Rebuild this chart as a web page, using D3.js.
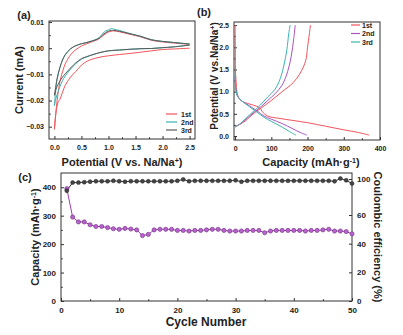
<!DOCTYPE html>
<html>
<head>
  <title>CV, charge/discharge and cycling</title>
  <script src="https://d3js.org/d3.v7.min.js"></script>
  <style>
    body { margin: 0; background: #fff; }
    text { font-family: "Liberation Sans", Arial, sans-serif; font-weight: bold; fill: #222; }
  </style>
</head>
<body>
<script>

// ---- (a) cyclic voltammetry ----
const cvDown = [2.5, 2.2, 2.0, 1.8, 1.6, 1.4, 1.2, 1.0, 0.8, 0.6, 0.5, 0.4, 0.3, 0.2, 0.15, 0.1, 0.07, 0.03, 0.0];
const cvUp = [0.0, 0.03, 0.05, 0.1, 0.15, 0.2, 0.3, 0.4, 0.5, 0.6, 0.7, 0.8, 0.85, 0.9, 0.95, 1.0, 1.05, 1.1, 1.2, 1.3, 1.4, 1.6, 1.8, 2.0, 2.2, 2.5];

const cv1Down = [0.0000, -0.0003, -0.0005, -0.0010, -0.0015, -0.0020, -0.0024, -0.0029, -0.0036, -0.0050, -0.0065, -0.0088, -0.0110, -0.0142, -0.0168, -0.0196, -0.0205, -0.0245, -0.0310];
const cv1Up = [-0.0310, -0.0240, -0.0200, -0.0130, -0.0090, -0.0060, -0.0025, -0.0005, 0.0008, 0.0017, 0.0025, 0.0033, 0.0040, 0.0048, 0.0056, 0.0062, 0.0065, 0.0066, 0.0063, 0.0058, 0.0053, 0.0043, 0.0030, 0.0024, 0.0020, 0.0015];
const cv2Down = [0.0012, 0.0005, 0.0002, -0.0001, -0.0002, -0.0004, -0.0007, -0.0010, -0.0019, -0.0033, -0.0042, -0.0058, -0.0080, -0.0106, -0.0124, -0.0148, -0.0165, -0.0190, -0.0220];
const cv2Up = [-0.0220, -0.0150, -0.0120, -0.0075, -0.0045, -0.0025, -0.0002, 0.0010, 0.0017, 0.0022, 0.0028, 0.0037, 0.0045, 0.0058, 0.0066, 0.0070, 0.0075, 0.0073, 0.0068, 0.0062, 0.0056, 0.0045, 0.0032, 0.0026, 0.0022, 0.0016];
const cv3Down = [0.0012, 0.0005, 0.0002, -0.0001, -0.0002, -0.0004, -0.0007, -0.0010, -0.0019, -0.0032, -0.0040, -0.0055, -0.0075, -0.0098, -0.0110, -0.0126, -0.0138, -0.0156, -0.0180];
const cv3Up = [-0.0180, -0.0140, -0.0115, -0.0075, -0.0045, -0.0025, -0.0002, 0.0010, 0.0017, 0.0022, 0.0028, 0.0035, 0.0042, 0.0052, 0.0060, 0.0065, 0.0068, 0.0068, 0.0065, 0.0060, 0.0055, 0.0045, 0.0032, 0.0026, 0.0022, 0.0016];
const cvNames = ["1st", "2nd", "3rd"];
const cvColors = ["#f2545a", "#3ab5ad", "#5a5a5a"];

// ---- (b) charge / discharge profiles ----
const dis1Cap = [0, 0.5, 1, 3, 5, 10, 20, 40, 60, 70, 75, 90, 120, 160, 200, 250, 300, 340, 370];
const dis1Pot = [2.5, 2.0, 1.5, 1.2, 1.0, 0.86, 0.78, 0.72, 0.67, 0.62, 0.55, 0.45, 0.40, 0.35, 0.30, 0.22, 0.14, 0.08, 0.02];
const chg1Cap = [0, 10, 30, 50, 70, 100, 130, 160, 180, 195, 200, 205, 208];
const chg1Pot = [0.22, 0.25, 0.35, 0.50, 0.62, 0.80, 1.00, 1.20, 1.42, 1.70, 2.00, 2.30, 2.50];
const dis2Cap = [0, 3, 8, 20, 40, 60, 80, 100, 130, 160, 180, 198];
const dis2Pot = [1.35, 1.0, 0.88, 0.78, 0.68, 0.57, 0.45, 0.38, 0.28, 0.16, 0.08, 0.02];
const chg2Cap = [0, 10, 30, 50, 70, 90, 110, 130, 145, 155, 162, 166];
const chg2Pot = [0.22, 0.25, 0.38, 0.52, 0.65, 0.80, 0.95, 1.15, 1.45, 1.80, 2.20, 2.50];
const dis3Cap = [0, 3, 8, 20, 40, 60, 80, 100, 130, 150, 168];
const dis3Pot = [1.4, 1.0, 0.88, 0.78, 0.66, 0.54, 0.42, 0.33, 0.20, 0.10, 0.02];
const chg3Cap = [0, 10, 30, 50, 70, 90, 110, 125, 135, 143, 148, 152];
const chg3Pot = [0.20, 0.25, 0.40, 0.55, 0.70, 0.88, 1.05, 1.30, 1.60, 1.95, 2.30, 2.50];
const gcColors = ["#f2545a", "#a855c0", "#3ab5ad"];

// ---- (c) cycling ----
const cycles = d3.range(1, 51);
const capacity = [395, 295, 278, 278, 268, 262, 262, 258, 254, 252, 255, 253, 250, 230, 234, 250, 252, 252, 252, 248,
  248, 246, 248, 248, 250, 252, 252, 248, 246, 246, 246, 248, 248, 248, 240, 246, 248, 248, 248, 248,
  248, 246, 248, 248, 250, 252, 246, 246, 244, 236];
const efficiency = [87, 96, 96, 96.5, 97, 97.5, 97.5, 97.5, 98, 97.5, 97, 97.5, 97.5, 97.5, 97.5, 97.5, 97.5, 97.5, 97.5, 98,
  99.5, 97.5, 98, 98, 98, 98, 98, 98, 98, 98.5, 97, 98, 98, 98, 98, 98, 98, 98, 98, 98,
  98, 98, 98, 98, 98, 98, 97.5, 100.5, 98.5, 95];

const svg = d3.select("body").append("svg").attr("width", 403).attr("height", 335);

// helper: inward ticks + minor ticks + box
function drawAxes(x, y, o) {
  const [x0, x1] = x.range(), [y0, y1] = y.range();
  const g = svg.append("g");
  g.append("g").attr("transform", `translate(0,${y0})`)
    .call(d3.axisBottom(x).tickValues(o.xt).tickFormat(o.xf).tickSizeInner(-3).tickSizeOuter(0).tickPadding(6));
  g.append("g").attr("transform", `translate(${x0},0)`)
    .call(d3.axisLeft(y).tickValues(o.yt).tickFormat(o.yf).tickSizeInner(-3).tickSizeOuter(0).tickPadding(5));
  g.append("g").attr("transform", `translate(0,${y0})`)
    .call(d3.axisBottom(x).tickValues(o.xm).tickFormat("").tickSizeInner(-1.8).tickSizeOuter(0));
  g.append("g").attr("transform", `translate(${x0},0)`)
    .call(d3.axisLeft(y).tickValues(o.ym).tickFormat("").tickSizeInner(-1.8).tickSizeOuter(0));
  g.selectAll(".domain").remove();
  g.selectAll(".tick line").attr("stroke", "#333");
  g.selectAll(".tick text").style("font-size", o.fs + "px").attr("fill", "#333");
  g.append("rect").attr("x", x0).attr("y", y1).attr("width", x1 - x0).attr("height", y0 - y1)
    .attr("fill", "none").attr("stroke", "#333").attr("stroke-width", 1);
  return g;
}

function title(txt, x, y, rot, size) {
  const t = svg.append("text").attr("text-anchor", "middle")
    .attr("transform", `translate(${x},${y}) rotate(${rot || 0})`)
    .style("font-size", (size || 11) + "px");
  txt.forEach(p => {
    const s = t.append("tspan").text(p[0]);
    if (p[1]) s.attr("baseline-shift", "super").style("font-size", "7px");
  });
  return t;
}

// ================= (a) =================
const xa = d3.scaleLinear([-0.1, 2.6], [49, 195]);
const ya = d3.scaleLinear([-0.0347, 0.0104], [139, 21]);
drawAxes(xa, ya, {
  xt: [0, 0.5, 1, 1.5, 2, 2.5], xf: d3.format(".1f"), xm: [0.25, 0.75, 1.25, 1.75, 2.25],
  yt: [-0.03, -0.02, -0.01, 0, 0.01], yf: d3.format(".2f"), ym: [-0.025, -0.015, -0.005, 0.005], fs: 7
});
const cvSets = [[cv1Down, cv1Up], [cv2Down, cv2Up], [cv3Down, cv3Up]];
const lineA = d3.line().x(d => xa(d[0])).y(d => ya(d[1])).curve(d3.curveCatmullRom.alpha(0.5));
cvSets.forEach((s, i) => {
  const pts = cvDown.map((v, k) => [v, s[0][k]]).concat(cvUp.map((v, k) => [v, s[1][k]]));
  svg.append("path").datum(pts).attr("d", lineA).attr("fill", "none")
    .attr("stroke", cvColors[i]).attr("stroke-width", 1);
});
cvNames.forEach((n, i) => {
  const yy = 114 + i * 8;
  svg.append("line").attr("x1", 166).attr("x2", 177).attr("y1", yy).attr("y2", yy)
    .attr("stroke", cvColors[i]).attr("stroke-width", 1.2);
  svg.append("text").attr("x", 181).attr("y", yy + 2.5).style("font-size", "7px").text(n);
});
title([["Current (mA)"]], 23, 80, -90);
title([["Potential (V vs. Na/Na"], ["+", true], [")"]], 122, 166, 0);
title([["(a)"]], 24, 19, 0, 11);

// ================= (b) =================
const xb = d3.scaleLinear([-3, 400], [234, 380]);
const yb = d3.scaleLinear([-0.09, 2.57], [140, 22]);
drawAxes(xb, yb, {
  xt: [0, 100, 200, 300, 400], xf: d3.format("d"), xm: [50, 150, 250, 350],
  yt: [0, 0.5, 1, 1.5, 2, 2.5], yf: d3.format(".1f"), ym: [0.25, 0.75, 1.25, 1.75, 2.25], fs: 7
});
const lineB = d3.line().x(d => xb(d[0])).y(d => yb(d[1])).curve(d3.curveCatmullRom.alpha(0.5));
const gcCurves = [[dis1Cap, dis1Pot, chg1Cap, chg1Pot], [dis2Cap, dis2Pot, chg2Cap, chg2Pot], [dis3Cap, dis3Pot, chg3Cap, chg3Pot]];
gcCurves.forEach((c, i) => {
  const dis = c[0].map((v, k) => [v, c[1][k]]);
  const chg = c[2].map((v, k) => [v, c[3][k]]);
  [dis, chg].forEach(p => svg.append("path").datum(p).attr("d", lineB).attr("fill", "none")
    .attr("stroke", gcColors[i]).attr("stroke-width", 1));
});
cvNames.forEach((n, i) => {
  const yy = 25 + i * 8.5;
  svg.append("line").attr("x1", 351).attr("x2", 360).attr("y1", yy).attr("y2", yy)
    .attr("stroke", gcColors[i]).attr("stroke-width", 1.2);
  svg.append("text").attr("x", 362).attr("y", yy + 2.5).style("font-size", "7px").text(n);
});
title([["Potential (V vs.Na/Na"], ["+", true], [")"]], 218, 76, -90, 10);
title([["Capacity (mAh·g"], ["-1", true], [")"]], 311, 166, 0);
title([["(b)"]], 204, 16, 0, 11);

// ================= (c) =================
const xc = d3.scaleLinear([0, 50], [61, 352]);
const yc = d3.scaleLinear([0, 450], [301, 173]);
const yr = d3.scaleLinear([0, 60, 100], [301, 215, 179]);
drawAxes(xc, yc, {
  xt: [0, 10, 20, 30, 40, 50], xf: d3.format("d"), xm: [5, 15, 25, 35, 45],
  yt: [0, 100, 200, 300, 400], yf: d3.format("d"), ym: [50, 150, 250, 350], fs: 8
});
const gr = svg.append("g").attr("transform", "translate(352,0)")
  .call(d3.axisRight(yr).tickValues([0, 20, 40, 60, 100]).tickFormat(d3.format("d"))
    .tickSizeInner(-3).tickSizeOuter(0).tickPadding(5));
gr.select(".domain").remove();
gr.selectAll(".tick line").attr("stroke", "#333");
gr.selectAll(".tick text").style("font-size", "8px").attr("fill", "#333");

svg.append("path").datum(cycles.map((c, i) => [c, capacity[i]]))
  .attr("d", d3.line().x(d => xc(d[0])).y(d => yc(d[1])))
  .attr("fill", "none").attr("stroke", "#9b3fb0").attr("stroke-width", 1);
svg.append("path").datum(cycles.map((c, i) => [c, efficiency[i]]))
  .attr("d", d3.line().x(d => xc(d[0])).y(d => yr(d[1])))
  .attr("fill", "none").attr("stroke", "#333").attr("stroke-width", 1);
svg.append("g").selectAll("circle").data(cycles).join("circle")
  .attr("cx", d => xc(d)).attr("cy", (d, i) => yc(capacity[i])).attr("r", 2.1)
  .attr("fill", "#b864cc").attr("stroke", "#6e2a80").attr("stroke-width", 0.6);
svg.append("g").selectAll("circle").data(cycles).join("circle")
  .attr("cx", d => xc(d)).attr("cy", (d, i) => yr(efficiency[i])).attr("r", 2)
  .attr("fill", "#444").attr("stroke", "#222").attr("stroke-width", 0.5);

title([["Capacity (mAh·g"], ["-1", true], [")"]], 39, 237, -90);
title([["Coulombic efficiency (%)"]], 374, 237, 90);
title([["Cycle Number"]], 206, 326, 0, 12);
title([["(c)"]], 25, 181, 0, 11);

</script>
</body>
</html>
